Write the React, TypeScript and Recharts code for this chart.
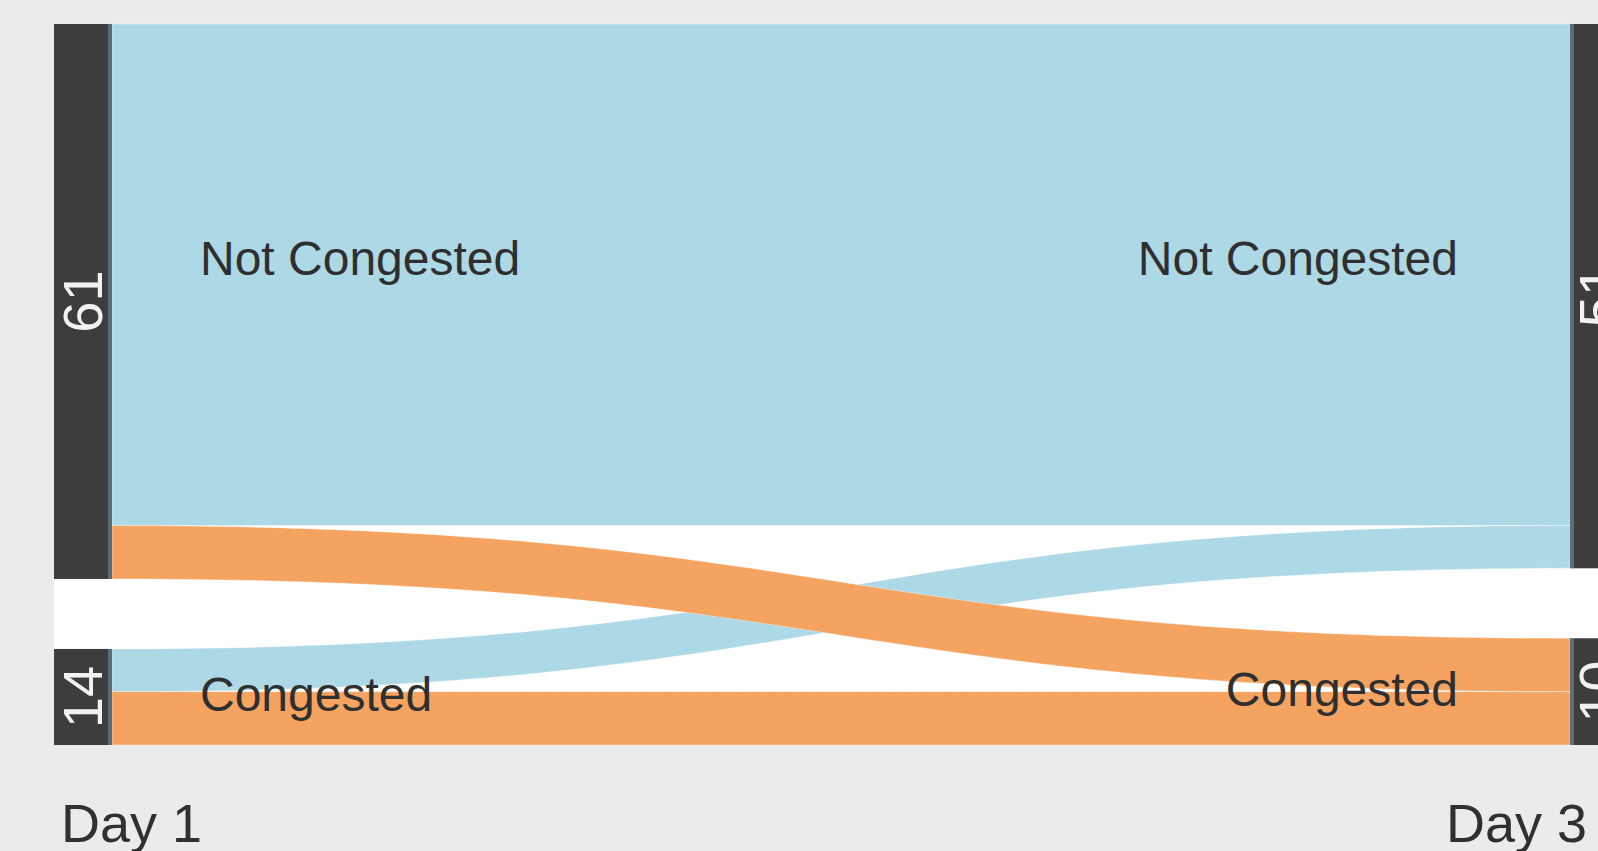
import React from 'react';
import { Sankey } from 'recharts';

// columns and states
const stages = ['Day 1', 'Day 3'];
const states = ['Not Congested', 'Congested'];

// patients counted at each stage (labels on the strata)
const day1Counts = [61, 14];
const day3Counts = [51, 10];

// flows between Day 1 and Day 3 (only patients seen on both days)
const flowFrom = ['Not Congested', 'Congested', 'Not Congested', 'Congested'];
const flowTo = ['Not Congested', 'Not Congested', 'Congested', 'Congested'];
const flowCount = [47, 4, 5, 5];

const stateColors: Record<string, string> = {
    'Not Congested': '#add8e6',
    Congested: '#f4a460',
};

const nodes = [
    ...states.map((s, i) => ({ name: s, stage: 0, state: s, count: day1Counts[i] })),
    ...states.map((s, i) => ({ name: s, stage: 1, state: s, count: day3Counts[i] })),
];

const links = flowCount.map((v, i) => ({
    source: states.indexOf(flowFrom[i]),
    target: states.length + states.indexOf(flowTo[i]),
    value: v,
}));

const FONT = '"Liberation Sans", Arial, sans-serif';

const AlluvialLink = (props: any) => {
    const { sourceX, targetX, sourceY, targetY, sourceControlX, targetControlX, linkWidth, index } = props;
    const h = linkWidth / 2;
    const s0 = sourceY - h;
    const s1 = sourceY + h;
    const t0 = targetY - h;
    const t1 = targetY + h;
    const d =
        `M${sourceX},${s0} C${sourceControlX},${s0} ${targetControlX},${t0} ${targetX},${t0} ` +
        `L${targetX},${t1} C${targetControlX},${t1} ${sourceControlX},${s1} ${sourceX},${s1} Z`;
    return (
        <path
            d={d}
            fill={stateColors[flowTo[index]]}
            stroke="#ffffff"
            strokeOpacity={0.35}
            strokeWidth={1}
        />
    );
};

const StratumNode = (props: any) => {
    const { x, y, width, height, index } = props;
    const node = nodes[index];
    const left = node.stage === 0;
    const cx = x + width / 2;
    const cy = y + height / 2;
    const labelY = node.state === 'Not Congested' ? y + 234 : cy - 2;
    return (
        <g>
            <rect x={x} y={y} width={width} height={height} fill="#3d3d3d" />
            <rect x={left ? x + width - 4 : x} y={y} width={4} height={height} fill="#7f9fb5" opacity={0.5} />
            <text
                x={cx}
                y={cy}
                transform={`rotate(-90 ${cx} ${cy})`}
                textAnchor="middle"
                dominantBaseline="central"
                fill="#f2f2f2"
                fontFamily={FONT}
                fontSize={56}
            >
                {node.count}
            </text>
            <text
                x={left ? x + width + 88 : x - 112}
                y={labelY}
                textAnchor={left ? 'start' : 'end'}
                dominantBaseline="central"
                fill="#2f2f2f"
                fontFamily={FONT}
                fontSize={48}
            >
                {node.state}
            </text>
            {node.state === states[0] && (
                <text
                    x={left ? x + 7 : x + 17}
                    y={842}
                    textAnchor={left ? 'start' : 'end'}
                    fill="#303030"
                    fontFamily={FONT}
                    fontSize={54}
                >
                    {stages[node.stage]}
                </text>
            )}
        </g>
    );
};

export default function App() {
    return (
        <div
            style={{
                position: 'fixed',
                left: 0,
                top: 0,
                width: 1598,
                height: 851,
                overflow: 'hidden',
                background: '#ebebeb',
            }}
        >
            <div
                style={{
                    position: 'absolute',
                    left: 54,
                    top: 24,
                    width: 1600,
                    height: 721,
                    background: '#ffffff',
                }}
            />
            <div style={{ position: 'absolute', left: 0, top: 0 }}>
                <Sankey
                    width={1628}
                    height={851}
                    data={{ nodes, links }}
                    nodeWidth={58}
                    nodePadding={70}
                    iterations={0}
                    linkCurvature={0.5}
                    margin={{ top: 24, right: 0, bottom: 106, left: 54 }}
                    link={<AlluvialLink />}
                    node={<StratumNode />}
                />
            </div>
        </div>
    );
}
